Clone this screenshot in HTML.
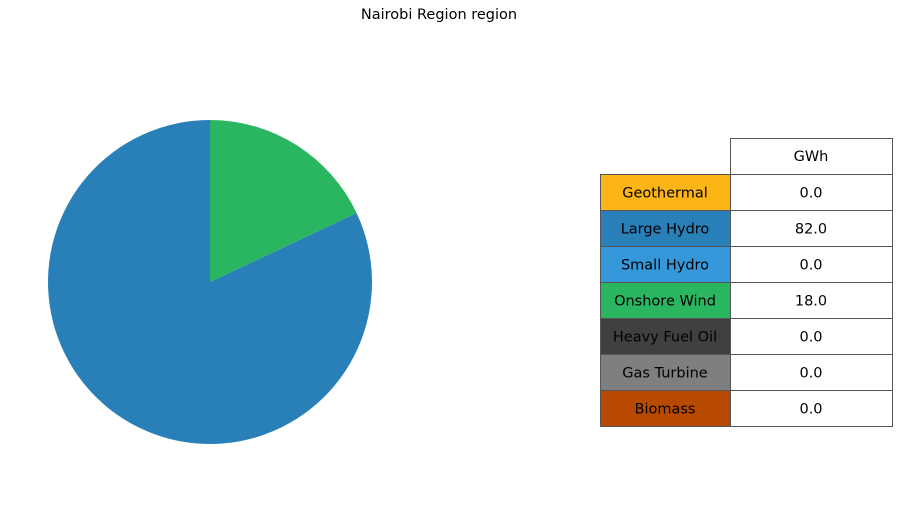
<!DOCTYPE html>
<html><head><meta charset="utf-8"><style>
body{margin:0;background:#fff;font-family:"DejaVu Sans",sans-serif}
#c{position:relative;width:907px;height:510px}
text{font-family:"DejaVu Sans",sans-serif}
</style></head><body>
<div id="c">
<svg width="907" height="510">
<text x="439" y="19" font-size="14.5" text-anchor="middle" fill="#000">Nairobi Region region</text>
<g id="pie"></g>
<g id="tbl"></g>
</svg>
</div>
<script>
const categories=["Geothermal","Large Hydro","Small Hydro","Onshore Wind","Heavy Fuel Oil","Gas Turbine","Biomass"];
const values=[0.0,82.0,0.0,18.0,0.0,0.0,0.0];
const colors=["#fdb515","#2980b9","#3498db","#2ab561","#404040","#7f7f7f","#b84a00"];
const NS="http://www.w3.org/2000/svg";
const cx=210,cy=282,r=162;
const pie=document.getElementById('pie');
const total=values.reduce((a,b)=>a+b,0);
let ang=90;
values.forEach((v,i)=>{
  if(v<=0)return;
  const sweep=v/total*360;
  const a0=ang*Math.PI/180,a1=(ang+sweep)*Math.PI/180;
  const x0=cx+r*Math.cos(a0),y0=cy-r*Math.sin(a0),x1=cx+r*Math.cos(a1),y1=cy-r*Math.sin(a1);
  const p=document.createElementNS(NS,'path');
  p.setAttribute('d',`M${cx},${cy}L${x0},${y0}A${r},${r} 0 ${sweep>180?1:0} 0 ${x1},${y1}Z`);
  p.setAttribute('fill',colors[i]);
  
  
  pie.appendChild(p);
  ang+=sweep;
});
const tbl=document.getElementById('tbl');
const x0=600,x1=730,x2=892,y0=138,rh=36;
function rect(x,y,w,h,f){const e=document.createElementNS(NS,'rect');e.setAttribute('x',x);e.setAttribute('y',y);e.setAttribute('width',w);e.setAttribute('height',h);e.setAttribute('fill',f);e.setAttribute('stroke','#555');e.setAttribute('stroke-width','1');tbl.appendChild(e);return e;}
function txt(x,y,s){const t=document.createElementNS(NS,'text');t.setAttribute('x',x);t.setAttribute('y',y);t.setAttribute('font-size','14.5');t.setAttribute('text-anchor','middle');t.textContent=s;tbl.appendChild(t);return t;}
const h=rect(x1+0.5,y0+0.5,x2-x1,rh,'#fff');


const ht=txt((x1+x2)/2,y0+rh/2+5,'GWh');


categories.forEach((c,i)=>{
  const y=y0+rh*(i+1)+0.5;
  const a=rect(x0+0.5,y,x1-x0,rh,colors[i]);
  
  
  const b=rect(x1+0.5,y,x2-x1,rh,'#fff');
  
  
  const t1=txt((x0+x1)/2,y+rh/2+5,c);
  
  
  const t2=txt((x1+x2)/2,y+rh/2+5,values[i].toFixed(1));
  
  
});
</script>
</body></html>
